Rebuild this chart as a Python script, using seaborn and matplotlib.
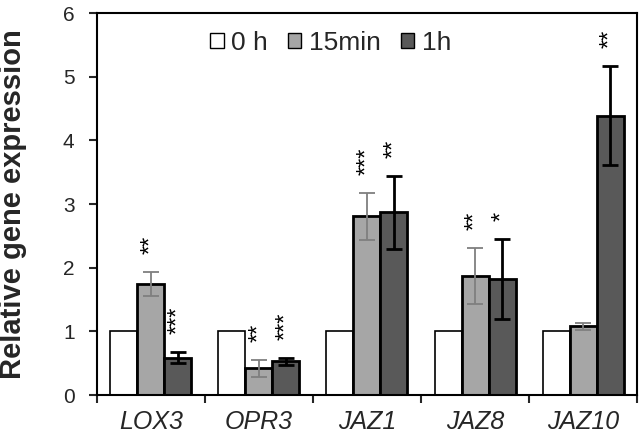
import numpy as np
import pandas as pd
import seaborn as sns
import matplotlib.pyplot as plt
from matplotlib.patches import Patch

genes = ["LOX3", "OPR3", "JAZ1", "JAZ8", "JAZ10"]
times = ["0 h", "15min", "1h"]
expr_0h = [1.0, 1.0, 1.0, 1.0, 1.0]
expr_15min = [1.74, 0.42, 2.81, 1.87, 1.08]
expr_1h = [0.59, 0.53, 2.87, 1.82, 4.39]
err_0h = [0, 0, 0, 0, 0]
err_15min = [0.19, 0.13, 0.37, 0.44, 0.06]
err_1h = [0.09, 0.06, 0.57, 0.63, 0.78]
stars_0h = ["", "", "", "", ""]
stars_15min = ["**", "**", "***", "**", ""]
stars_1h = ["***", "***", "**", "*", "**"]

colors = ["#FFFFFF", "#A6A6A6", "#595959"]
edge_lw = [1.2, 2.0, 2.0]
err_colors = ["#000000", "#7F7F7F", "#000000"]
err_lw = [1.2, 1.3, 2.0]

df = pd.DataFrame({
    "gene": genes * 3,
    "time": np.repeat(times, len(genes)),
    "value": expr_0h + expr_15min + expr_1h,
})
errs = [err_0h, err_15min, err_1h]
stars = [stars_0h, stars_15min, stars_1h]

sns.set_style("white")
plt.rcParams["font.family"] = ["Liberation Sans", "DejaVu Sans"]

fig, ax = plt.subplots(figsize=(6.41, 4.38), dpi=100)
fig.subplots_adjust(left=0.151, right=0.994, top=0.970, bottom=0.098)

sns.barplot(data=df, x="gene", y="value", hue="time", order=genes, hue_order=times,
            palette=colors, width=0.75, errorbar=None, edgecolor="black",
            linewidth=1.5, ax=ax)

# error bars and significance stars, positioned from the drawn bars
bar_containers = list(ax.containers)
for h, container in enumerate(bar_containers):
    for i, bar in enumerate(container):
        bar.set_linewidth(edge_lw[h])
        xc = bar.get_x() + bar.get_width() / 2
        top = bar.get_height()
        e = errs[h][i]
        if e > 0:
            ax.errorbar(xc, top, yerr=e, fmt="none", ecolor=err_colors[h],
                        elinewidth=err_lw[h], capsize=6, capthick=err_lw[h], zorder=4)
        if stars[h][i]:
            ax.text(xc, top + e + 0.28, stars[h][i], rotation=90, ha="center",
                    va="bottom", fontsize=17, color="black")

ax.set_ylim(0, 6)
ax.set_xlim(-0.5, len(genes) - 0.5)
ax.set_yticks(range(0, 7))
ax.tick_params(axis="y", labelsize=15, direction="out", length=6, width=1.5, left=True, pad=10)
ax.set_xticks(range(len(genes)))
ax.set_xticklabels(genes, fontstyle="italic", fontsize=18)
ax.set_xticks(np.arange(-0.5, len(genes)), minor=True)
ax.tick_params(axis="x", which="major", length=0, pad=11)
ax.tick_params(axis="x", which="minor", direction="out", length=6, width=1.5, bottom=True)
ax.set_xlabel("")
ax.set_ylabel("Relative gene expression", fontsize=21, fontweight="bold", labelpad=26)
for s in ax.spines.values():
    s.set_linewidth(1.5)
    s.set_color("black")

handles = [Patch(facecolor=c, edgecolor="black", linewidth=1.0) for c in colors]
ax.legend(handles, times, ncol=3, frameon=False, loc="center",
          bbox_to_anchor=(0.433, 0.921), fontsize=19, handlelength=0.5,
          handleheight=0.5, handletextpad=0.3, columnspacing=0.75)

fig.savefig("out.png", dpi=100)
